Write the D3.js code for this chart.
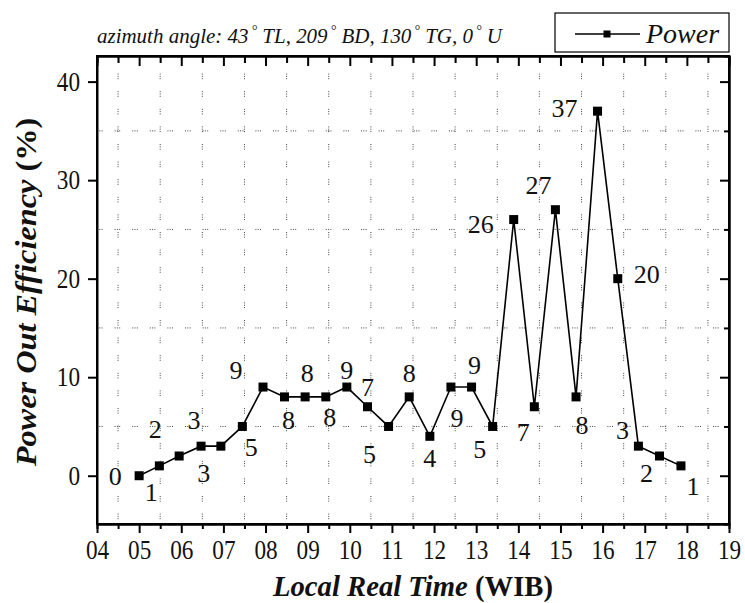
<!DOCTYPE html>
<html>
<head>
<meta charset="utf-8">
<script src="https://cdn.jsdelivr.net/npm/d3@7"></script>
<style>
	body { margin: 0; background: white; }
	text { font-family: 'Liberation Serif', 'Times New Roman', serif; fill: #111; }
</style>
</head>
<body>
<div id="chart"></div>
<script>
// measurement times (hours) and power out efficiency (%)
let times = [5.00, 5.48, 5.95, 6.47, 6.94, 7.45, 7.94, 8.45, 8.94, 9.43, 9.93, 10.42, 10.92, 11.41,
	11.90, 12.40, 12.89, 13.39, 13.89, 14.38, 14.88, 15.37, 15.88, 16.36, 16.85, 17.35, 17.86];
let efficiency = [0, 1, 2, 3, 3, 5, 9, 8, 8, 8, 9, 7, 5, 8, 4, 9, 9, 5, 26, 7, 27, 8, 37, 20, 3, 2, 1];
let xTickLabels = ['04', '05', '06', '07', '08', '09', '10', '11', '12', '13', '14', '15', '16', '17', '18', '19'];
let yTickValues = [0, 10, 20, 30, 40];
let seriesName = 'Power';
let noteParts = ['azimuth angle: 43', ' TL, 209', ' BD, 130', ' TG, 0', ' U'];

// where each value label sits relative to its point (px)
let labelOffsets = [[-24, 0], [-8, 26], [-24, -27], [-7, -26], [-17, 27], [9, 20], [-27, -17], [4, 23],
	[2, -24], [4, 20], [0, -17], [0, -20], [-19, 27], [0, -24], [0, 22], [6, 31], [3, -22], [-13, 22],
	[-33, 4], [-11, 25], [-17, -25], [6, 28], [-33, -3], [29, -5], [-16, -16], [-13, 17], [12, 20]];

// narrow a text horizontally around its anchor point
function squeeze(sel, sx) {
	sel.attr('transform', function () {
		let ax = +d3.select(this).attr('x') || 0;
		return 'translate(' + ax + ',0) scale(' + sx + ',1) translate(' + (-ax) + ',0)';
	});
}

function fitWidth(sel, w) {
	squeeze(sel, w / sel.node().getBBox().width);
}

let width = 745,
	height = 603;

let svg = d3.select('#chart')
	.append('svg')
	.attr('width', width)
	.attr('height', height)
	.style('background', 'white');

let x = d3.scaleLinear().domain([4, 19]).range([97, 729]);
let y = d3.scaleLinear().domain([-4.9, 42.6]).range([524, 56]);

let halfHours = d3.range(4.5, 19, 1);
let hours = d3.range(4, 20, 1);
let minorY = [5, 15, 25, 35];
let dots = '1,1.3,1,1.3,1,12';

// dotted grid
svg.append('g')
	.selectAll('line')
	.data(halfHours)
	.join('line')
	.attr('x1', d => x(d)).attr('x2', d => x(d))
	.attr('y1', y.range()[1]).attr('y2', y.range()[0])
	.attr('stroke', '#444')
	.attr('stroke-width', 1)
	.attr('stroke-dasharray', dots);

svg.append('g')
	.selectAll('line')
	.data(minorY)
	.join('line')
	.attr('x1', x.range()[0]).attr('x2', x.range()[1])
	.attr('y1', d => y(d)).attr('y2', d => y(d))
	.attr('stroke', '#444')
	.attr('stroke-width', 1)
	.attr('stroke-dasharray', dots);

// axes
let axisBottom = svg.append('g')
	.attr('transform', 'translate(0,' + y.range()[0] + ')')
	.call(d3.axisBottom(x).tickValues(hours).tickSize(9).tickSizeOuter(0).tickPadding(7)
		.tickFormat((d, i) => xTickLabels[i]));
axisBottom.append('g')
	.call(d3.axisBottom(x).tickValues(halfHours).tickSize(5).tickFormat(''));

let axisTop = svg.append('g')
	.attr('transform', 'translate(0,' + y.range()[1] + ')')
	.call(d3.axisBottom(x).tickValues(hours).tickSize(10).tickSizeOuter(0).tickFormat(''));
axisTop.append('g')
	.call(d3.axisBottom(x).tickValues(halfHours).tickSize(7).tickFormat(''));

let axisLeft = svg.append('g')
	.attr('transform', 'translate(' + x.range()[0] + ',0)')
	.call(d3.axisLeft(y).tickValues(yTickValues).tickSize(9).tickSizeOuter(0).tickPadding(8));

let axisRight = svg.append('g')
	.attr('transform', 'translate(' + x.range()[1] + ',0)')
	.call(d3.axisLeft(y).tickValues(yTickValues).tickSize(9).tickSizeOuter(0).tickFormat(''));
axisRight.append('g')
	.call(d3.axisLeft(y).tickValues(minorY).tickSize(5).tickFormat(''));

svg.selectAll('.domain').attr('stroke', 'black').attr('stroke-width', 2);
svg.selectAll('.tick line').attr('stroke', 'black').attr('stroke-width', 2);
svg.selectAll('.tick text')
	.style('font-family', "'Liberation Serif', serif")
	.style('font-size', '27px')
	.attr('fill', '#111');
squeeze(svg.selectAll('.tick text'), 0.86);

// frame
svg.append('rect')
	.attr('x', x.range()[0]).attr('y', y.range()[1])
	.attr('width', x.range()[1] - x.range()[0])
	.attr('height', y.range()[0] - y.range()[1])
	.attr('fill', 'none')
	.attr('stroke', 'black')
	.attr('stroke-width', 2);

// series
let points = times.map((t, i) => ({ t: t, v: efficiency[i] }));

svg.append('path')
	.datum(points)
	.attr('fill', 'none')
	.attr('stroke', 'black')
	.attr('stroke-width', 1.6)
	.attr('d', d3.line().x(d => x(d.t)).y(d => y(d.v)));

svg.append('g')
	.selectAll('rect')
	.data(points)
	.join('rect')
	.attr('x', d => x(d.t) - 4.5)
	.attr('y', d => y(d.v) - 4.5)
	.attr('width', 9)
	.attr('height', 9)
	.attr('fill', 'black');

svg.append('g')
	.selectAll('text')
	.data(points)
	.join('text')
	.attr('x', (d, i) => x(d.t) + labelOffsets[i][0])
	.attr('y', (d, i) => y(d.v) + labelOffsets[i][1])
	.attr('dy', '0.35em')
	.attr('text-anchor', 'middle')
	.style('font-size', '26px')
	.text(d => d.v);

// axis titles
let xt = svg.append('text')
	.attr('x', (x.range()[0] + x.range()[1]) / 2)
	.attr('y', 596)
	.attr('text-anchor', 'middle')
	.style('font-size', '29px')
	.style('font-weight', 'bold');
xt.append('tspan').style('font-style', 'italic').text('Local Real Time');
xt.append('tspan').text(' (WIB)');
fitWidth(xt, 281);

let yt = svg.append('g')
	.attr('transform', 'translate(36,292) rotate(-90)')
	.append('text')
	.attr('x', 0)
	.attr('text-anchor', 'middle')
	.style('font-size', '29px')
	.style('font-weight', 'bold');
yt.append('tspan').style('font-style', 'italic').text('Power Out Efficiency');
yt.append('tspan').text(' (%)');
fitWidth(yt, 350);

// note above the plot
let note = svg.append('text')
	.attr('x', 97)
	.attr('y', 43)
	.style('font-size', '21px')
	.style('font-style', 'italic');
noteParts.forEach((p, i) => {
	note.append('tspan').attr('dy', i > 0 ? 8 : 0).text(p);
	if (i < noteParts.length - 1) {
		note.append('tspan').attr('dx', 3).attr('dy', -8).style('font-size', '14px').text('°');
	}
});
fitWidth(note, 407);

// legend
let legend = svg.append('g');
legend.append('rect')
	.attr('x', 555).attr('y', 13)
	.attr('width', 174).attr('height', 39)
	.attr('fill', 'white')
	.attr('stroke', 'black')
	.attr('stroke-width', 1.2);
legend.append('line')
	.attr('x1', 575).attr('x2', 640)
	.attr('y1', 34).attr('y2', 34)
	.attr('stroke', 'black')
	.attr('stroke-width', 1.6);
legend.append('rect')
	.attr('x', 603.5).attr('y', 30.5)
	.attr('width', 7).attr('height', 7)
	.attr('fill', 'black');
legend.append('text')
	.attr('x', 646).attr('y', 43)
	.style('font-size', '28px')
	.style('font-style', 'italic')
	.text(seriesName);
</script>
</body>
</html>
